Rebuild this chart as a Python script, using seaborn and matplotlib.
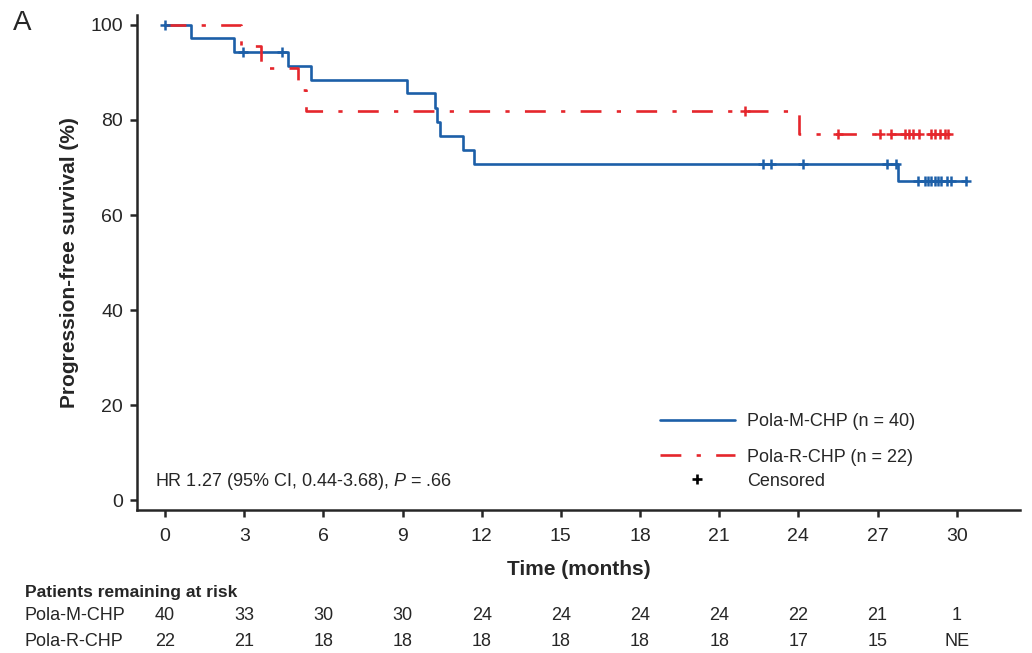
"""Kaplan-Meier style PFS curves, Pola-M-CHP vs Pola-R-CHP."""

import numpy as np
import pandas as pd
import matplotlib
matplotlib.use('Agg')
import matplotlib.pyplot as plt
from matplotlib.lines import Line2D
from matplotlib.transforms import blended_transform_factory
import seaborn as sns

# step curves (time in months, PFS in %)
m_times = [0, 1.0, 2.6, 4.67, 5.53, 9.17, 10.23, 10.31, 10.42, 11.3, 11.7, 27.78, 30.34]
m_surv = [100, 97.2, 94.4, 91.4, 88.4, 85.6, 82.5, 79.6, 76.6, 73.7, 70.7, 67.2, 67.2]
m_censor = [0.0, 2.95, 4.42, 22.65, 22.98, 24.18, 27.36, 27.7, 28.53, 28.79, 28.9,
            29.03, 29.17, 29.29, 29.42, 29.63, 29.77, 30.34]

r_times = [0, 2.87, 3.62, 5.05, 5.33, 24.03, 29.7]
r_surv = [100, 95.5, 90.9, 86.4, 81.8, 77.0, 77.0]
r_censor = [21.97, 25.5, 27.08, 27.52, 28.05, 28.2, 28.35, 28.58, 29.02, 29.17,
            29.36, 29.55, 29.67]

risk_times = [0, 3, 6, 9, 12, 15, 18, 21, 24, 27, 30]
risk_m = ['40', '33', '30', '30', '24', '24', '24', '24', '22', '21', '1']
risk_r = ['22', '21', '18', '18', '18', '18', '18', '18', '17', '15', 'NE']

labels = ['Pola-M-CHP (n = 40)', 'Pola-R-CHP (n = 22)']

BLUE = '#1c5fa8'
RED = '#e5262c'
DASH = (0, (7.9, 5.8, 1.6, 5.8))


def step_value(times, surv, t):
    """Value of a right-continuous step curve at time t."""
    idx = np.searchsorted(times, t, side='right') - 1
    return np.asarray(surv)[idx]


sns.set_style('ticks')
plt.rcParams['font.family'] = ['Liberation Sans', 'DejaVu Sans']
plt.rcParams['mathtext.fontset'] = 'custom'
plt.rcParams['mathtext.rm'] = 'Liberation Sans'
plt.rcParams['mathtext.it'] = 'Liberation Sans:italic'

fig = plt.figure(figsize=(10.32, 6.53), dpi=100)
ax = fig.add_axes([0.1328, 0.219, 0.8556, 0.758])

df_m = pd.DataFrame({'time': m_times, 'pfs': m_surv})
df_r = pd.DataFrame({'time': r_times, 'pfs': r_surv})
sns.lineplot(data=df_m, x='time', y='pfs', drawstyle='steps-post', color=BLUE,
             linewidth=1.9, estimator=None, ax=ax)
sns.lineplot(data=df_r, x='time', y='pfs', drawstyle='steps-post', color=RED,
             linewidth=1.9, linestyle=DASH, estimator=None, ax=ax)

cm = pd.DataFrame({'time': m_censor, 'pfs': step_value(m_times, m_surv, m_censor)})
cr = pd.DataFrame({'time': r_censor, 'pfs': step_value(r_times, r_surv, r_censor)})
sns.scatterplot(data=cr, x='time', y='pfs', marker='+', s=60, color=RED,
                linewidth=1.8, ax=ax, zorder=4)
sns.scatterplot(data=cm, x='time', y='pfs', marker='+', s=60, color=BLUE,
                linewidth=1.8, ax=ax, zorder=4)

ax.set_xlim(-1.06, 32.4)
ax.set_ylim(-2.1, 102.1)
ax.set_xticks(risk_times)
ax.set_yticks([0, 20, 40, 60, 80, 100])
ax.tick_params(axis='both', labelsize=14, width=1.8, length=5, pad=5)
ax.tick_params(axis='x', pad=8)
for side in ['top', 'right']:
    ax.spines[side].set_visible(False)
for side in ['left', 'bottom']:
    ax.spines[side].set_linewidth(1.8)

ax.set_xlabel('Time (months)', fontsize=15, fontweight='bold', labelpad=11)
ax.set_ylabel('Progression-free survival (%)', fontsize=15, fontweight='bold', labelpad=8)

h_m = Line2D([], [], color=BLUE, linewidth=1.9)
h_r = Line2D([], [], color=RED, linewidth=1.9, linestyle=DASH)
h_c = Line2D([], [], color='black', marker='+', linestyle='none', markersize=7.5, markeredgewidth=1.9)
leg1 = ax.legend([h_m, h_r], labels, loc='center left', bbox_to_anchor=(660 / 1032, 1 - 439.5 / 653),
                 bbox_transform=fig.transFigure, frameon=False, fontsize=13, borderpad=0,
                 borderaxespad=0, handlelength=4.15, handletextpad=0.66, labelspacing=1.0)
ax.add_artist(leg1)
ax.legend([h_c], ['Censored'], loc='center left', bbox_to_anchor=(660 / 1032, 1 - 481 / 653),
          bbox_transform=fig.transFigure, frameon=False, fontsize=13, borderpad=0,
          borderaxespad=0, handlelength=4.15, handletextpad=0.66)

fig.text(155 / 1032, 1 - 481 / 653, r'HR 1.27 (95% CI, 0.44-3.68), $P$ = .66', fontsize=13, va='center')
fig.text(13 / 1032, 1 - 23 / 653, 'A', fontsize=20, va='center')

# risk table
trans = blended_transform_factory(ax.transData, fig.transFigure)
fig.text(25 / 1032, 1 - 592 / 653, 'Patients remaining at risk', fontsize=12.5, fontweight='bold', va='center')
for name, row, y in [('Pola-M-CHP', risk_m, 615), ('Pola-R-CHP', risk_r, 641)]:
    fig.text(25 / 1032, 1 - y / 653, name, fontsize=13, va='center')
    for t, n in zip(risk_times, row):
        ax.text(t, 1 - y / 653, n, transform=trans, fontsize=13, ha='center', va='center')

fig.savefig('out.png', dpi=100)
